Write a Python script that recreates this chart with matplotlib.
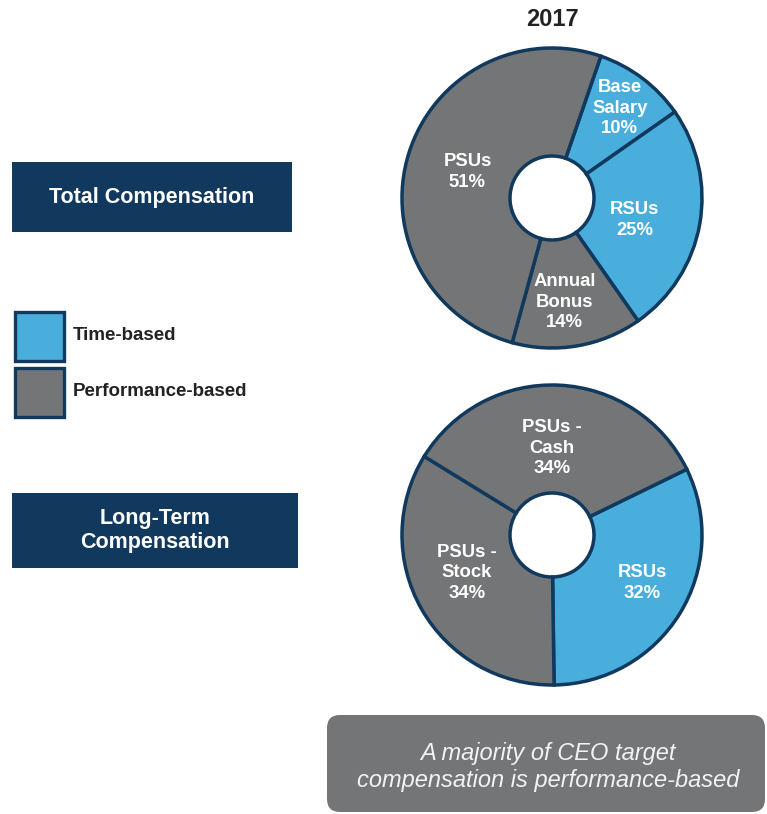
import matplotlib.pyplot as plt
from matplotlib.patches import Rectangle, FancyBboxPatch
import numpy as np

plt.rcParams['font.family'] = ['Liberation Sans', 'DejaVu Sans']

W, H = 767, 814

# data
year = "2017"
total_labels = ["Base\nSalary", "RSUs", "Annual\nBonus", "PSUs"]
total_values = [10, 25, 14, 51]
total_kind = ["time", "time", "perf", "perf"]

lt_labels = ["RSUs", "PSUs -\nStock", "PSUs -\nCash"]
lt_values = [32, 34, 34]
lt_kind = ["time", "perf", "perf"]

legend_labels = ["Time-based", "Performance-based"]
legend_kind = ["time", "perf"]

box_titles = ["Total Compensation", "Long-Term\nCompensation"]
note = "A majority of CEO target\ncompensation is performance-based"

# styles
BLUE = "#49aedc"
GRAY = "#747576"
NAVY = "#10395d"
colors = {"time": BLUE, "perf": GRAY}
R = 150
HOLE = 42

fig = plt.figure(figsize=(W / 100, H / 100), dpi=100)
ax = fig.add_axes([0, 0, 1, 1])


def py(y):
    # pixel row (top down) -> axes y
    return H - y


def donut(values, labels, kinds, center, start, lpos):
    wedges, _ = ax.pie(values, colors=[colors[k] for k in kinds], startangle=start,
                       counterclock=False, radius=R, center=center,
                       wedgeprops=dict(width=R - HOLE, edgecolor=NAVY, linewidth=2.5))
    for w, lab, v, (rf, dth) in zip(wedges, labels, values, lpos):
        ang = np.deg2rad((w.theta1 + w.theta2) / 2 + dth)
        x = center[0] + rf * R * np.cos(ang)
        y = center[1] + rf * R * np.sin(ang)
        ax.text(x, y, f"{lab}\n{v}%", ha="center", va="center", color="white",
                fontsize=13.3, fontweight="bold", linespacing=1.27)


donut(total_values, total_labels, total_kind, (552, py(198)), 71,
      [(0.75, 0), (0.57, -5), (0.70, -3), (0.59, 0)])
donut(lt_values, lt_labels, lt_kind, (552, py(535)), 26,
      [(0.68, 3.5), (0.62, -5.5), (0.58, 3)])

ax.text(552, py(19), year, ha="center", va="center", fontsize=17,
        fontweight="bold", color="#222222")

# title boxes on the left
for (x0, y0, x1, y1), t in zip([(12, 162, 292, 232), (12, 493, 298, 568)], box_titles):
    ax.add_patch(Rectangle((x0, py(y1)), x1 - x0, y1 - y0, facecolor=NAVY, edgecolor="none"))
    ax.text((x0 + x1) / 2, py((y0 + y1) / 2), t, ha="center", va="center",
            color="white", fontsize=15.5, fontweight="bold", linespacing=1.15)

# legend
for i, (lab, k) in enumerate(zip(legend_labels, legend_kind)):
    top = 310 + i * 56
    ax.add_patch(Rectangle((14.5, py(top + 50.5)), 49, 49, facecolor=colors[k],
                           edgecolor=NAVY, linewidth=2.4))
    ax.text(73, py(top + 25), lab, ha="left", va="center", fontsize=13.5,
            fontweight="bold", color="#222222")

# bottom note
ax.add_patch(FancyBboxPatch((327, py(812)), 438, 97,
                            boxstyle="round,pad=0,rounding_size=13",
                            facecolor=GRAY, edgecolor="none"))
ax.text(548, py(767), note, ha="center", va="center", fontsize=17,
        style="italic", color="#f2f2f2", linespacing=1.2)

ax.set_xlim(0, W)
ax.set_ylim(0, H)
ax.set_aspect("equal")
ax.axis("off")

fig.savefig("out.png", dpi=100)
